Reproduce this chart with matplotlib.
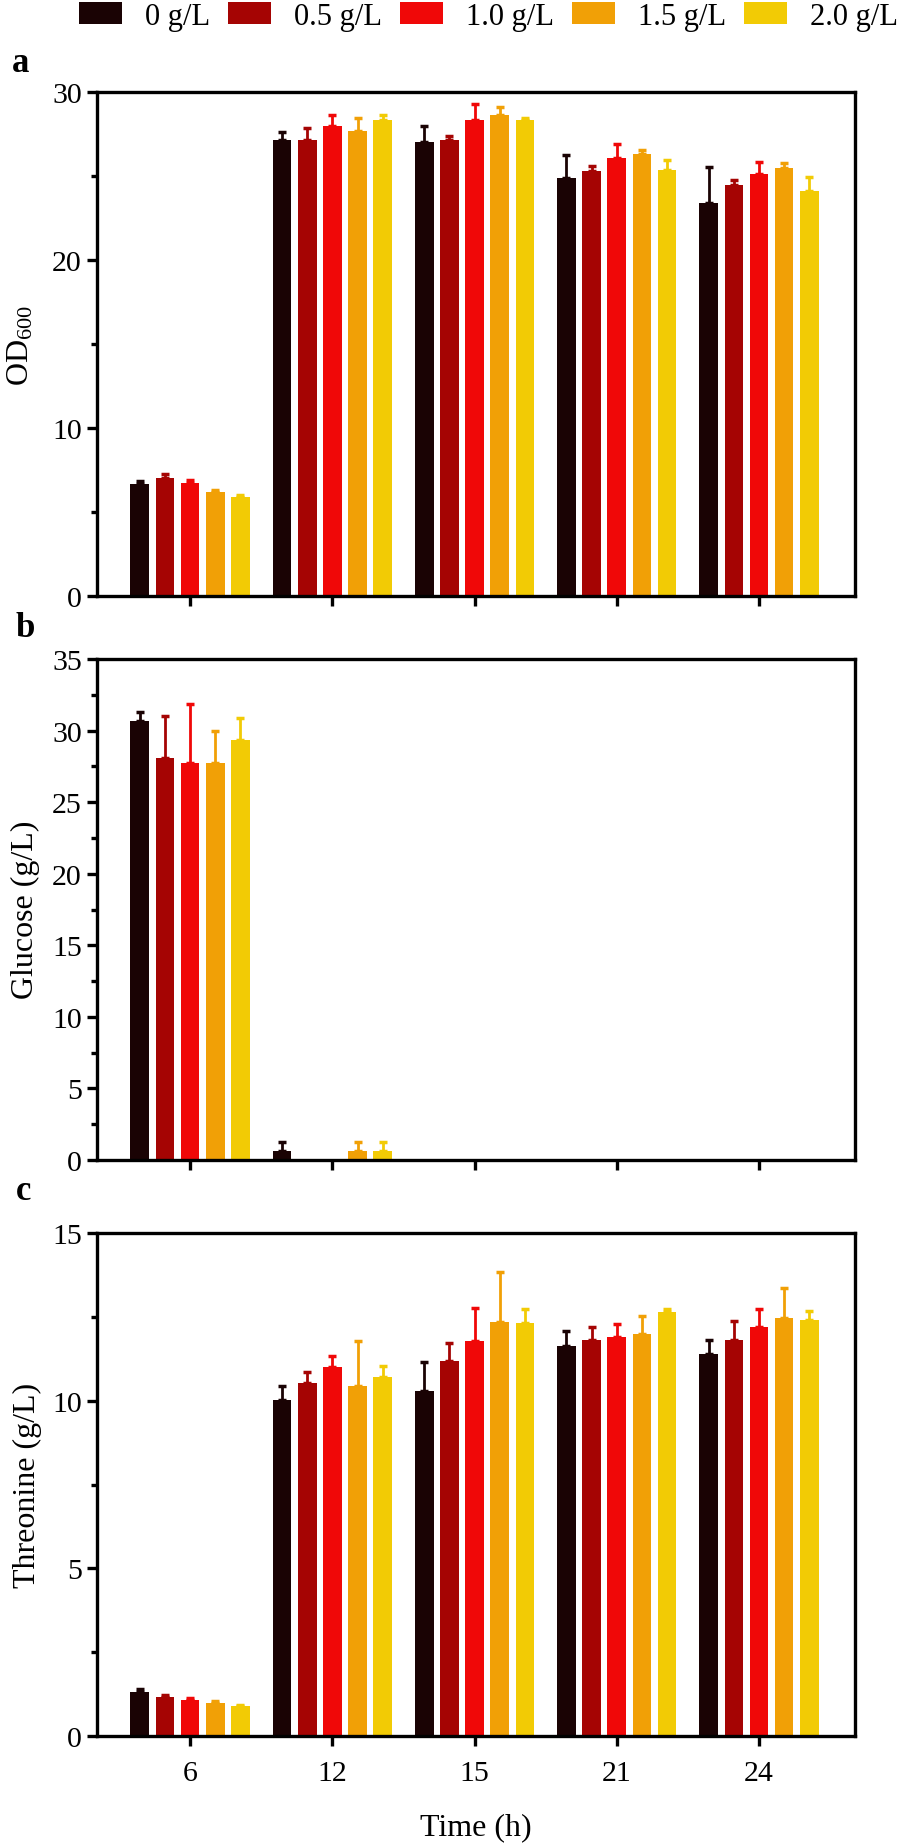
import numpy as np
import matplotlib
matplotlib.use("Agg")
import matplotlib.pyplot as plt
from matplotlib.ticker import MultipleLocator

plt.rcParams['font.family'] = ['Liberation Serif', 'DejaVu Serif']
plt.rcParams['mathtext.fontset'] = 'custom'
plt.rcParams['mathtext.rm'] = 'Liberation Serif'

# data
times = ['6', '12', '15', '21', '24']
doses = ['0 g/L', '0.5 g/L', '1.0 g/L', '1.5 g/L', '2.0 g/L']
colors = ['#1a0304', '#a50403', '#f00808', '#f1a006', '#f2cb05']

# OD600 (mean, sd) per dose, per time
od_mean = [[6.64, 27.12, 27.03, 24.88, 23.41],
           [7.00, 27.16, 27.16, 25.28, 24.49],
           [6.72, 27.99, 28.33, 26.05, 25.13],
           [6.21, 27.69, 28.63, 26.29, 25.47],
           [5.91, 28.31, 28.31, 25.37, 24.09]]
od_sd = [[0.23, 0.51, 0.94, 1.38, 2.11],
         [0.25, 0.70, 0.21, 0.32, 0.28],
         [0.21, 0.66, 0.96, 0.83, 0.69],
         [0.08, 0.79, 0.45, 0.27, 0.28],
         [0.13, 0.30, 0.13, 0.60, 0.83]]

# glucose (g/L)
glc_mean = [[30.68, 0.63, 0, 0, 0],
            [28.05, 0, 0, 0, 0],
            [27.70, 0, 0, 0, 0],
            [27.70, 0.63, 0, 0, 0],
            [29.37, 0.63, 0, 0, 0]]
glc_sd = [[0.60, 0.65, 0, 0, 0],
          [3.00, 0, 0, 0, 0],
          [4.15, 0, 0, 0, 0],
          [2.29, 0.65, 0, 0, 0],
          [1.53, 0.65, 0, 0, 0]]

# threonine (g/L)
thr_mean = [[1.30, 10.02, 10.30, 11.62, 11.40],
            [1.16, 10.53, 11.19, 11.81, 11.81],
            [1.08, 11.01, 11.78, 11.89, 12.19],
            [0.99, 10.43, 12.34, 11.98, 12.47],
            [0.88, 10.71, 12.31, 12.63, 12.40]]
thr_sd = [[0.11, 0.43, 0.86, 0.47, 0.41],
          [0.05, 0.33, 0.52, 0.39, 0.57],
          [0.06, 0.32, 0.97, 0.40, 0.54],
          [0.06, 1.36, 1.51, 0.54, 0.89],
          [0.04, 0.31, 0.43, 0.10, 0.27]]

W, H = 898, 1849
fig = plt.figure(figsize=(W / 100, H / 100), dpi=100)

def px_axes(left, top, right, bottom):
    return fig.add_axes([left / W, 1 - bottom / H, (right - left) / W, (bottom - top) / H])

ax_a = px_axes(97, 93, 855, 597)
ax_b = px_axes(97, 660, 855, 1161)
ax_c = px_axes(97, 1234, 855, 1737)

fs = 21.5      # tick labels
fs_lab = 23    # axis titles
step = 0.177
bw = 0.131
x = np.arange(len(times))

def draw(ax, means, sds, ymax, major, minor):
    bars = []
    for i in range(len(doses)):
        m = np.array(means[i], dtype=float)
        s = np.array(sds[i], dtype=float)
        xi = x + (i - 2) * step
        b = ax.bar(xi, m, width=bw, color=colors[i], label=doses[i], zorder=2)
        bars.append(b)
        keep = m > 0
        ax.errorbar(xi[keep], m[keep], yerr=[np.zeros(keep.sum()), s[keep]],
                    fmt='none', ecolor=colors[i], elinewidth=2.0,
                    capsize=3, capthick=2.5, zorder=3)
    ax.set_xlim(-0.655, 4.675)
    ax.set_ylim(0, ymax)
    ax.set_xticks(x)
    ax.yaxis.set_major_locator(MultipleLocator(major))
    ax.yaxis.set_minor_locator(MultipleLocator(minor))
    for sp in ax.spines.values():
        sp.set_linewidth(2.4)
    ax.tick_params(axis='both', direction='out', width=2.4, length=7,
                   labelsize=fs, pad=4)
    ax.tick_params(axis='y', which='minor', direction='out', width=2.4, length=4)
    ax.tick_params(axis='x', which='minor', bottom=False)
    ax.tick_params(axis='x', pad=10)
    return bars

bars = draw(ax_a, od_mean, od_sd, 30, 10, 5)
draw(ax_b, glc_mean, glc_sd, 35, 5, 2.5)
draw(ax_c, thr_mean, thr_sd, 15, 5, 2.5)

ax_a.set_xticklabels([])
ax_b.set_xticklabels([])
ax_c.set_xticklabels(times)

fig.text(21 / W, 1 - 345 / H, r'OD$\mathregular{_{600}}$', rotation=90,
         ha='center', va='center', fontsize=fs_lab)
fig.text(25 / W, 1 - 910 / H, 'Glucose (g/L)', rotation=90,
         ha='center', va='center', fontsize=fs_lab)
fig.text(27 / W, 1 - 1485 / H, 'Threonine (g/L)', rotation=90,
         ha='center', va='center', fontsize=fs_lab)
fig.text(476 / W, 1 - 1828 / H, 'Time (h)', ha='center', va='center', fontsize=fs_lab)

# panel letters
fig.text(12 / W, 1 - 72 / H, 'a', fontsize=25, fontweight='bold', va='baseline')
fig.text(16 / W, 1 - 637 / H, 'b', fontsize=25, fontweight='bold', va='baseline')
fig.text(16 / W, 1 - 1200 / H, 'c', fontsize=25, fontweight='bold', va='baseline')

fig.legend(handles=bars, labels=doses, loc='upper left',
           bbox_to_anchor=(79 / W, 1 - 3 / H), ncol=5, frameon=False,
           fontsize=22, borderpad=0, handlelength=1.4, handleheight=0.72,
           handletextpad=0.75, columnspacing=0.6, borderaxespad=0)

fig.savefig('out.png', dpi=100)
